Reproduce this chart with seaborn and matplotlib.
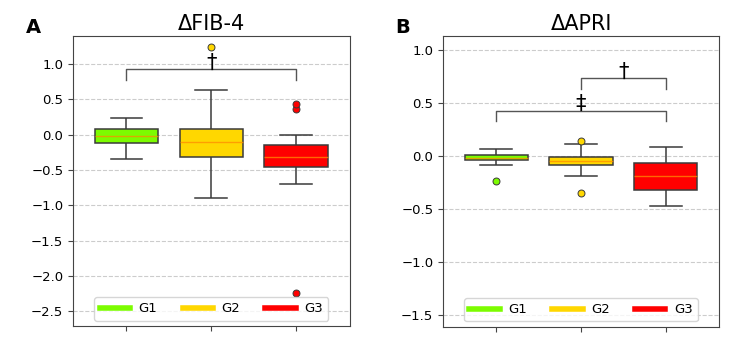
import matplotlib
matplotlib.use("Agg")
import matplotlib.pyplot as plt
from matplotlib.lines import Line2D
import seaborn as sns
import pandas as pd

# groups and colours
groups = ["G1", "G2", "G3"]
group_colors = ["#7CFC00", "#FFD700", "#FF0000"]

fib4_g1 = [-0.35, -0.25, -0.18, -0.12, -0.08, -0.05, -0.02, 0.02, 0.05, 0.08, 0.12, 0.18, 0.23]
fib4_g2 = [-0.89, -0.60, -0.40, -0.31, -0.25, -0.15, -0.10, -0.05, 0.02, 0.08, 0.30, 0.63, 1.24]
fib4_g3 = [-2.24, -0.70, -0.55, -0.46, -0.42, -0.36, -0.32, -0.25, -0.20, -0.14, -0.01, 0.36, 0.44]

apri_g1 = [-0.24, -0.09, -0.06, -0.04, -0.035, -0.03, -0.02, -0.01, 0.0, 0.007, 0.02, 0.04, 0.063]
apri_g2 = [-0.35, -0.19, -0.12, -0.085, -0.07, -0.06, -0.05, -0.03, -0.02, -0.007, 0.05, 0.107, 0.14]
apri_g3 = [-0.47, -0.40, -0.35, -0.325, -0.28, -0.23, -0.19, -0.15, -0.10, -0.07, -0.03, 0.02, 0.08]

# significance brackets: (from group, to group, top y, leg y, symbol)
fib4_brackets = [(0, 2, 0.93, 0.78, "\u2020")]
apri_brackets = [(0, 2, 0.426, 0.325, "\u2021"), (1, 2, 0.73, 0.625, "\u2020")]

fib4_ticks = [-2.5, -2.0, -1.5, -1.0, -0.5, 0.0, 0.5, 1.0]
apri_ticks = [-1.5, -1.0, -0.5, 0.0, 0.5, 1.0]

plt.rcParams['font.family'] = ['DejaVu Sans']

fig = plt.figure(figsize=(7.5, 3.45), dpi=100)
ax_a = fig.add_axes([0.0973, 0.055, 0.369, 0.841])
ax_b = fig.add_axes([0.5907, 0.053, 0.368, 0.843])


def draw_panel(ax, series, brackets, ticks, ylim, title):
    for g, vals, c in zip(groups, series, group_colors):
        df = pd.DataFrame({"group": g, "value": vals})
        sns.boxplot(data=df, x="group", y="value", order=groups, color=c,
                    width=0.75, linecolor="#3a3a3a", linewidth=1.1,
                    saturation=1, ax=ax,
                    medianprops=dict(color="#FF8C00", linewidth=1.0, alpha=0.75),
                    flierprops=dict(marker="o", markersize=5, markerfacecolor=c,
                                    markeredgecolor="#3a3a3a", markeredgewidth=0.7))
    for x0, x1, ytop, yleg, sym in brackets:
        ax.plot([x0, x0, x1, x1], [yleg, ytop, ytop, yleg], color="#555555", lw=1.0)
        ax.text((x0 + x1) / 2, ytop - 0.012 * (ylim[1] - ylim[0]), sym,
                ha="center", va="bottom", fontsize=15)
    ax.set_xlim(-0.63, 2.63)
    ax.set_ylim(*ylim)
    ax.set_yticks(ticks)
    ax.set_xticks([0, 1, 2])
    ax.set_xticklabels(["", "", ""])
    ax.set_xlabel("")
    ax.set_ylabel("")
    ax.yaxis.grid(True, linestyle="--", color="#cccccc", linewidth=0.8)
    ax.set_axisbelow(True)
    ax.tick_params(labelsize=9.5, color="#444444")
    for s in ax.spines.values():
        s.set_color("#444444")
    ax.set_title(title, fontsize=15, pad=4)
    handles = [Line2D([0], [0], color=c, lw=4) for c in group_colors]
    ax.legend(handles, groups, loc="lower center", ncol=3, fontsize=9.5,
              handlelength=2.3, handletextpad=0.65, columnspacing=1.9,
              borderaxespad=0.4, edgecolor="#cccccc", fancybox=True)


draw_panel(ax_a, [fib4_g1, fib4_g2, fib4_g3], fib4_brackets, fib4_ticks,
           (-2.71, 1.40), "\u0394FIB-4")
draw_panel(ax_b, [apri_g1, apri_g2, apri_g3], apri_brackets, apri_ticks,
           (-1.61, 1.13), "\u0394APRI")

fig.text(0.034, 0.893, "A", fontsize=14, fontweight="bold", va="bottom")
fig.text(0.527, 0.893, "B", fontsize=14, fontweight="bold", va="bottom")

fig.savefig("out.png", dpi=100)
